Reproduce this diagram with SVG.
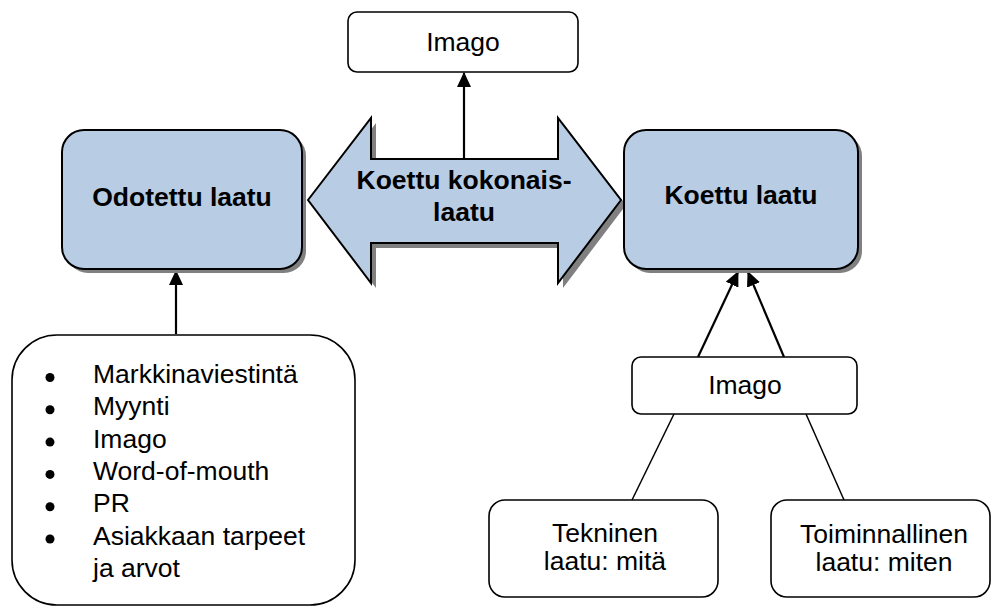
<svg xmlns="http://www.w3.org/2000/svg" width="992" height="608" viewBox="0 0 992 608">
<style>
.t{font-family:"Liberation Sans",Arial,sans-serif;font-size:26.5px;fill:#000;text-anchor:middle}
.b{font-weight:bold}
.l{text-anchor:start}
.main{fill:#B8CCE4;stroke:#000;stroke-width:2}
.sh{fill:#808080;stroke:none}
.box{fill:#fff;stroke:#000;stroke-width:1.6}
.arr{stroke:#000;stroke-width:2.2;fill:none}
.thin{stroke:#000;stroke-width:1.5;fill:none}
</style>
<defs>
<marker id="ah" viewBox="0 0 15 14" refX="14" refY="7" markerWidth="15" markerHeight="14" markerUnits="userSpaceOnUse" orient="auto">
<path d="M0,0 L15,7 L0,14 z" fill="#000"/>
</marker>
</defs>

<g id="connectors">
<line class="arr" x1="464" y1="159" x2="464" y2="73" marker-end="url(#ah)"/>
<line class="arr" x1="176" y1="334" x2="176" y2="271" marker-end="url(#ah)"/>
<line class="arr" x1="698" y1="357" x2="738" y2="272" marker-end="url(#ah)"/>
<line class="arr" x1="784" y1="357" x2="748" y2="272" marker-end="url(#ah)"/>
<line class="thin" x1="674" y1="414" x2="632" y2="500"/>
<line class="thin" x1="806" y1="414" x2="844" y2="500"/>
</g>

<g id="imago-top">
<rect class="box" x="348" y="12" width="230" height="60" rx="9"/>
<text class="t" x="463" y="51">Imago</text>
</g>

<g id="odotettu">
<rect class="sh" x="66" y="134" width="240" height="139" rx="22"/>
<rect class="main" x="62" y="130" width="240" height="139" rx="22"/>
<text class="t b" x="182" y="206">Odotettu laatu</text>
</g>

<g id="kokonaislaatu">
<path class="sh" transform="translate(5,5)" d="M308,200 L371,118 L371,159 L558,159 L558,118 L621,200 L558,283 L558,243 L371,243 L371,283 Z"/>
<path class="main" d="M308,200 L371,118 L371,159 L558,159 L558,118 L621,200 L558,283 L558,243 L371,243 L371,283 Z"/>
<text class="t b" x="464" y="189">Koettu kokonais-</text>
<text class="t b" x="464" y="221">laatu</text>
</g>

<g id="koettu">
<rect class="sh" x="628" y="134" width="234" height="139" rx="22"/>
<rect class="main" x="624" y="130" width="234" height="139" rx="22"/>
<text class="t b" x="741" y="204">Koettu laatu</text>
</g>

<g id="tekijat">
<rect class="box" x="12" y="335" width="343" height="270" rx="45"/>
<g fill="#000">
<circle cx="50" cy="377.5" r="4.5"/>
<circle cx="50" cy="409.8" r="4.5"/>
<circle cx="50" cy="442.1" r="4.5"/>
<circle cx="50" cy="474.4" r="4.5"/>
<circle cx="50" cy="506.7" r="4.5"/>
<circle cx="50" cy="539" r="4.5"/>
</g>
<text class="t l" x="93" y="383">Markkinaviestintä</text>
<text class="t l" x="93" y="415.3">Myynti</text>
<text class="t l" x="93" y="447.6">Imago</text>
<text class="t l" x="93" y="479.9">Word-of-mouth</text>
<text class="t l" x="93" y="512.2">PR</text>
<text class="t l" x="93" y="544.5">Asiakkaan tarpeet</text>
<text class="t l" x="93" y="576.8">ja arvot</text>
</g>

<g id="imago-bottom">
<rect class="box" x="632" y="357" width="225" height="57" rx="9"/>
<text class="t" x="745" y="394">Imago</text>
</g>

<g id="tekninen">
<rect class="box" x="489" y="500" width="229" height="97" rx="16"/>
<text class="t" x="605" y="542">Tekninen</text>
<text class="t" x="605" y="570">laatu: mitä</text>
</g>

<g id="toiminnallinen">
<rect class="box" x="771" y="500" width="219" height="97" rx="16"/>
<text class="t" x="884" y="543">Toiminnallinen</text>
<text class="t" x="884" y="571">laatu: miten</text>
</g>
</svg>
